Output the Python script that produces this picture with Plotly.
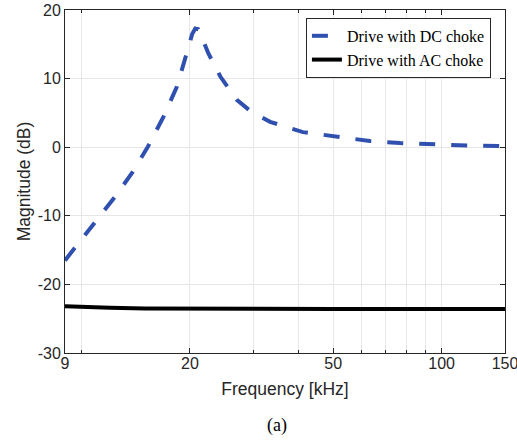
import plotly.graph_objects as go

# DC choke curve (frequency kHz, magnitude dB)
dc_freq = [9.0, 10.8, 12.3, 13.8, 15.3, 16.9, 18.4, 19.6, 20.3, 20.7, 21.1, 21.6, 22.5, 24.3,
           27.0, 29.4, 33.4, 41.2, 51.3, 63.2, 76.7, 94.6, 117.7, 150.0]
dc_mag = [-16.5, -11.3, -7.45, -3.8, 0.1, 4.45, 8.8, 13.7, 16.5, 17.3, 17.2, 16.0, 13.7, 10.3,
          6.9, 5.3, 3.7, 2.2, 1.5, 0.9, 0.6, 0.4, 0.25, 0.15]

# AC choke curve
ac_freq = [9.0, 10.0, 12.0, 15.0, 20.0, 30.0, 50.0, 100.0, 150.0]
ac_mag = [-23.2, -23.3, -23.4, -23.5, -23.55, -23.6, -23.6, -23.6, -23.6]

x_tickvals = [9, 20, 50, 100, 150]
x_ticktext = ["9", "20", "50", "100", "150"]
x_minor = [10, 30, 40, 60, 70, 80, 90]
y_tickvals = [-30, -20, -10, 0, 10, 20]
y_ticktext = ["-30", "-20", "-10", "0", "10", "20"]

fig = go.Figure()
fig.add_trace(go.Scatter(x=dc_freq, y=dc_mag, mode="lines", name="Drive with DC choke",
                         line=dict(color="#3050B0", width=4, dash="16px,16px")))
fig.add_trace(go.Scatter(x=ac_freq, y=ac_mag, mode="lines", name="Drive with AC choke",
                         line=dict(color="black", width=4)))

sans = "Liberation Sans, Arial, sans-serif"
serif = "Liberation Serif, Times New Roman, serif"
axis_font = dict(family=sans, size=16, color="#262626")

fig.update_layout(
    width=517, height=441,
    margin=dict(l=65, r=12, t=10, b=88),
    paper_bgcolor="white", plot_bgcolor="white",
    showlegend=True,
    legend=dict(x=0.968, y=0.977, xanchor="right", yanchor="top",
                bgcolor="white", bordercolor="#262626", borderwidth=1,
                font=dict(family=serif, size=16, color="black"),
                tracegroupgap=0, itemwidth=30),
    xaxis=dict(type="log", range=[0.9542425, 2.1760913],
               tickmode="array", tickvals=x_tickvals, ticktext=x_ticktext,
               ticks="inside", ticklen=5, tickcolor="#262626",
               ticklabeloverflow="allow", ticklabelstandoff=-4,
               showline=True, linecolor="#262626", linewidth=1, mirror="ticks",
               showgrid=True, gridcolor="#e6e6e6", gridwidth=1,
               minor=dict(tickvals=x_minor, showgrid=True, gridcolor="#e6e6e6",
                          ticks="inside", ticklen=3, tickcolor="#262626"),
               tickfont=axis_font, zeroline=False,
               title=dict(text="Frequency [kHz]", font=dict(family=sans, size=17.5, color="#262626"),
                          standoff=11),
               automargin=False),
    yaxis=dict(range=[-30, 20], tickmode="array", tickvals=y_tickvals, ticktext=y_ticktext,
               ticks="inside", ticklen=5, tickcolor="#262626",
               ticklabeloverflow="allow",
               showline=True, linecolor="#262626", linewidth=1, mirror="ticks",
               showgrid=True, gridcolor="#e6e6e6", gridwidth=1, zeroline=False,
               tickfont=axis_font,
               title=dict(text="Magnitude (dB)", font=dict(family=sans, size=17.5, color="#262626"),
                          standoff=2),
               automargin=False),
    annotations=[dict(text="(a)", xref="paper", yref="paper", x=0.482, y=-0.21,
                      xanchor="center", yanchor="middle", showarrow=False,
                      font=dict(family=serif, size=18, color="black"))],
)

fig.write_html("out.html", config={"displayModeBar": False},
               post_script="document.body.style.margin='0';document.body.style.overflow='hidden';")
